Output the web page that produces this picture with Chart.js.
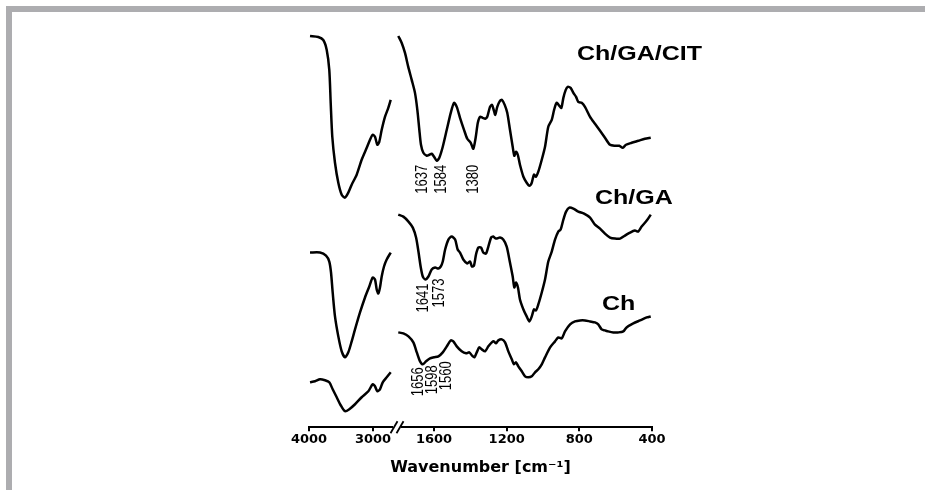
<!DOCTYPE html>
<html>
<head>
<meta charset="utf-8">
<script src="https://cdn.jsdelivr.net/npm/chart.js@4.4.0/dist/chart.umd.min.js"></script>
<style>
  html, body { margin: 0; padding: 0; background: #fff; }
  #frame { position: absolute; left: 6px; top: 6px; right: 0; bottom: 0;
           border-top: 6px solid #adadb0; border-left: 6px solid #adadb0; }
  #c { position: absolute; left: 0; top: 0; }
</style>
</head>
<body>
<div id="frame"></div>
<canvas id="c" width="925" height="490"></canvas>
<script>
// FTIR spectra, arbitrary transmittance units (offset per sample)
// high wavenumber part (4000 - ~2700 cm-1) and low part (~1800 - 400 cm-1)
const citHighWn = [3984,3855,3777,3723,3683,3661,3636,3594,3542,3489,3438,3386,3333,3255,3177,3098,3047,3005,2969,2933,2902,2864,2813,2761,2723];
const citHigh   = [392,391,388,378,358,325,291,265,245,233,230,235,243,253,268,280,288,293,291,283,286,298,311,320,328];
const citLowWn  = [1797,1778,1760,1742,1723,1705,1692,1681,1672,1659,1640,1626,1613,1600,1585,1571,1552,1530,1508,1490,1475,1457,1435,1417,1398,1384,1371,1359,1347,1332,1318,1307,1292,1281,1270,1263,1252,1237,1226,1211,1197,1182,1167,1158,1149,1139,1127,1108,1090,1075,1062,1050,1039,1026,1007,989,971,952,939,925,910,899,888,875,864,848,833,818,806,787,769,741,714,686,659,631,604,580,561,543,512,475,439,407];
const citLow    = [392,385,375,361,348,335,318,298,283,275,272,273,274,271,267,270,281,298,315,325,321,310,298,289,285,279,290,305,311,310,309,311,321,323,317,313,321,327,328,323,315,298,281,272,276,273,263,251,245,242,245,253,251,256,268,281,301,308,318,325,322,320,330,338,341,340,335,331,326,325,321,311,304,297,290,283,282,282,280,283,285,287,289,290];

const gaHighWn = [3984,3828,3734,3683,3656,3630,3594,3542,3489,3438,3386,3333,3281,3203,3125,3058,3005,2969,2942,2917,2891,2864,2828,2786,2723];
const gaHigh   = [175,175,172,166,155,135,111,91,76,70,75,86,98,115,130,141,150,148,138,134,140,151,161,168,175];
const gaLowWn  = [1797,1769,1741,1717,1699,1686,1673,1662,1648,1631,1613,1594,1576,1563,1552,1539,1521,1503,1484,1470,1457,1439,1417,1402,1391,1380,1369,1356,1341,1329,1314,1301,1286,1274,1259,1237,1219,1200,1182,1167,1158,1149,1138,1127,1108,1090,1075,1062,1050,1039,1026,1007,989,971,952,934,916,903,888,873,855,833,806,774,741,714,686,659,631,604,576,549,521,494,476,457,429,407];
const gaLow    = [213,211,206,200,190,176,160,151,148,151,158,160,159,161,166,178,188,191,188,178,175,168,164,166,161,162,173,180,180,175,174,181,190,191,189,190,188,181,165,151,140,145,140,128,118,111,106,111,118,117,123,135,148,166,176,188,196,198,208,216,220,219,216,214,210,203,199,194,190,189,189,192,195,197,196,201,207,213];

const chHighWn = [3984,3906,3828,3750,3683,3630,3567,3505,3438,3370,3281,3177,3073,3005,2969,2933,2891,2848,2786,2723];
const chHigh   = [45,46,48,47,45,38,30,22,16,18,23,30,36,43,41,36,38,45,50,55];
const chLowWn  = [1797,1769,1741,1714,1695,1677,1662,1644,1622,1600,1576,1552,1530,1508,1494,1475,1448,1424,1406,1392,1378,1365,1351,1337,1319,1301,1282,1270,1259,1246,1227,1209,1191,1172,1160,1149,1136,1117,1099,1081,1062,1044,1026,1007,989,961,934,916,897,879,851,824,796,769,741,714,696,677,659,641,613,586,558,540,503,466,429,407];
const chLow    = [95,94,91,85,75,66,63,66,69,70,71,75,81,87,86,81,76,74,75,72,70,75,80,78,76,81,85,86,84,87,88,85,76,68,63,65,61,56,51,50,51,55,58,63,70,80,86,90,89,96,103,106,107,107,106,105,103,98,97,96,95,95,96,100,104,107,110,111];

const seriesNames = ['Ch/GA/CIT', 'Ch/GA', 'Ch'];
const peaksCIT = [1637, 1584, 1380];
const peaksGA  = [1641, 1573];
const peaksCh  = [1656, 1598, 1560];

const highTicks = [3000, 4000];
const lowTicks  = [400, 800, 1200, 1600];

const zip = (xs, ys) => xs.map((x, i) => ({x: x, y: ys[i]}));

function line(data, axis) {
  return {
    data: data,
    xAxisID: axis,
    borderColor: '#000',
    borderWidth: 2.5,
    pointRadius: 0,
    tension: 0.25,
    fill: false
  };
}

// series names and peak labels, placed through the scales
const annotate = {
  id: 'annotate',
  afterDatasetsDraw(chart, args, opts) {
    const ctx = chart.ctx;
    const xr = chart.scales.xr, y = chart.scales.y;
    ctx.save();
    ctx.fillStyle = '#000';
    opts.names.forEach(n => {
      ctx.save();
      ctx.translate(xr.getPixelForValue(n.wn), y.getPixelForValue(n.y));
      ctx.scale(1.25, 1);
      ctx.font = 'bold 20px Arial, "Liberation Sans", sans-serif';
      ctx.textAlign = 'left';
      ctx.textBaseline = 'middle';
      ctx.fillText(n.text, 0, 1);
      ctx.restore();
    });
    opts.peaks.forEach(p => {
      p.values.forEach((v, i) => {
        ctx.save();
        ctx.translate(xr.getPixelForValue(v) + p.nudge[i], y.getPixelForValue(p.top[i]));
        ctx.rotate(-Math.PI / 2);
        ctx.scale(1, 1.25);
        ctx.font = '13px Arial, "Liberation Sans", sans-serif';
        ctx.textAlign = 'right';
        ctx.textBaseline = 'middle';
        ctx.fillText(String(v), 0, 0);
        ctx.restore();
      });
    });
    ctx.restore();
  }
};

// "//" mark where the two wavenumber ranges meet
const axisBreak = {
  id: 'axisBreak',
  afterDraw(chart) {
    const ctx = chart.ctx;
    const x = chart.scales.xl.right;
    const yb = chart.chartArea.bottom;
    ctx.save();
    ctx.fillStyle = '#fff';
    ctx.fillRect(x - 4, yb - 3, 8, 6);
    ctx.strokeStyle = '#000';
    ctx.lineWidth = 1.8;
    [-3, 3].forEach(d => {
      ctx.beginPath();
      ctx.moveTo(x + d - 3.5, yb + 6);
      ctx.lineTo(x + d + 3.5, yb - 6);
      ctx.stroke();
    });
    ctx.restore();
  }
};

function xAxis(min, max, ticks, weight) {
  return {
    type: 'linear',
    position: 'bottom',
    stack: 'wn',
    stackWeight: weight,
    reverse: true,
    min: min,
    max: max,
    offset: false,
    afterBuildTicks: s => { s.ticks = ticks.map(v => ({value: v})); },
    border: {display: true, color: '#000', width: 2},
    grid: {display: true, drawOnChartArea: false, drawTicks: true, tickLength: 4, color: '#000', lineWidth: 2},
    ticks: {
      color: '#000',
      padding: 1,
      maxRotation: 0,
      autoSkip: false,
      font: {family: 'DejaVu Sans', size: 13, weight: 'bold'},
      callback: v => String(v)
    }
  };
}

new Chart(document.getElementById('c'), {
  type: 'line',
  data: {
    datasets: [
      line(zip(citHighWn, citHigh), 'xl'),
      line(zip(citLowWn, citLow), 'xr'),
      line(zip(gaHighWn, gaHigh), 'xl'),
      line(zip(gaLowWn, gaLow), 'xr'),
      line(zip(chHighWn, chHigh), 'xl'),
      line(zip(chLowWn, chLow), 'xr')
    ]
  },
  options: {
    responsive: false,
    animation: false,
    layout: {padding: {left: 309, right: 273, top: 28, bottom: 13}},
    scales: {
      xl: xAxis(2625, 4000, highTicks, 88),
      xr: xAxis(400, 1804, lowTicks, 255),
      y: {type: 'linear', display: false, min: 0, max: 400}
    },
    plugins: {
      legend: {display: false},
      tooltip: {enabled: false},
      title: {
        display: true,
        position: 'bottom',
        text: 'Wavenumber [cm\u207B\u00B9]',
        color: '#000',
        font: {family: 'DejaVu Sans', size: 16, weight: 'bold'},
        padding: {top: 9, bottom: 0}
      },
      annotate: {
        names: [
          {text: seriesNames[0], wn: 813, y: 374},
          {text: seriesNames[1], wn: 714, y: 230},
          {text: seriesNames[2], wn: 675, y: 124}
        ],
        peaks: [
          {values: peaksCIT, top: [263, 263, 263], nudge: [-5, 5, 0]},
          {values: peaksGA, top: [144, 149], nudge: [-3, 1]},
          {values: peaksCh, top: [60, 62, 66], nudge: [-5, -2, 5]}
        ]
      }
    }
  },
  plugins: [annotate, axisBreak]
});
</script>
</body>
</html>
